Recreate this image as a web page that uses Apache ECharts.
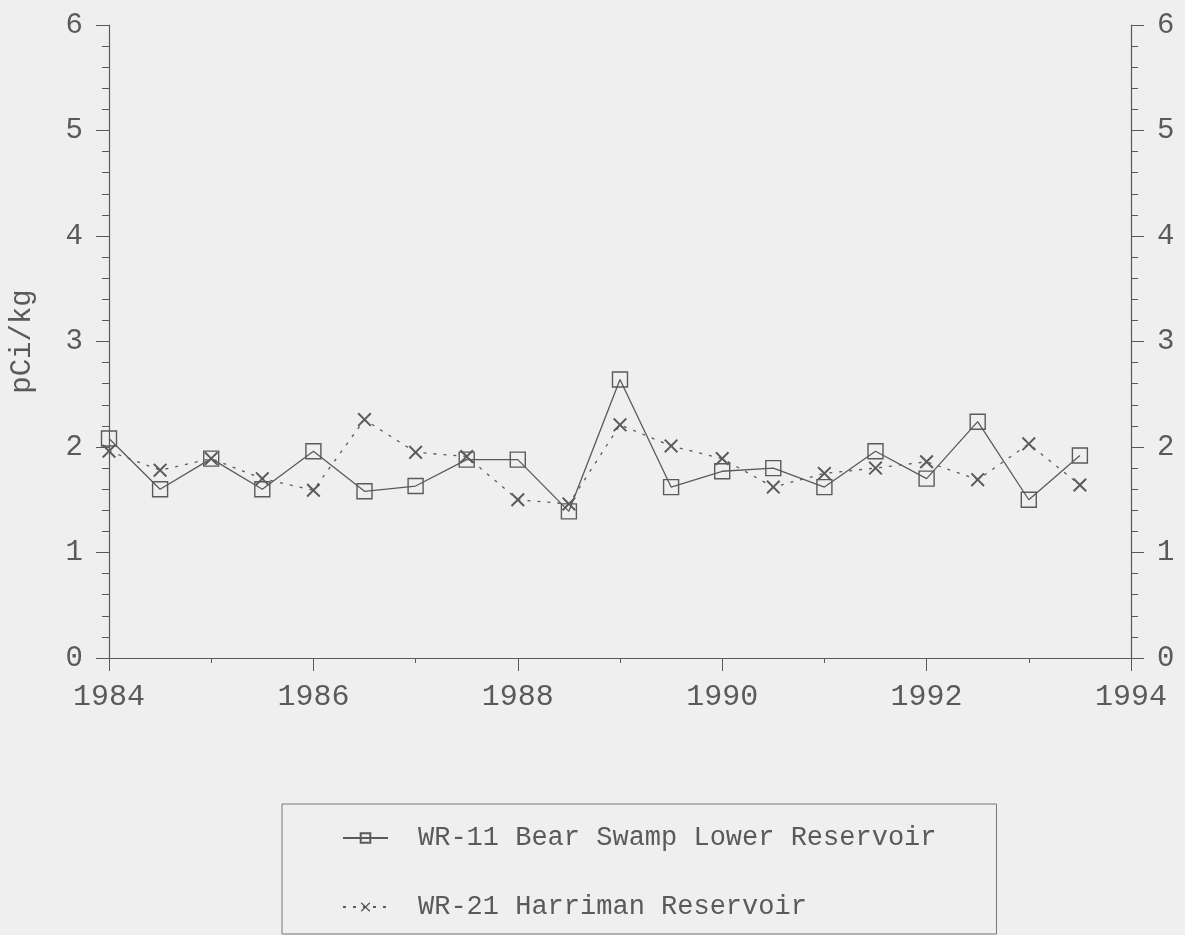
<!DOCTYPE html>
<html>
<head>
<meta charset="utf-8">
<script src="https://cdn.jsdelivr.net/npm/echarts@6/dist/echarts.min.js"></script>
<style>
html,body{margin:0;padding:0;background:#efefef;}
#chart{width:1185px;height:935px;}
</style>
</head>
<body>
<div id="chart"></div>
<script>
var years = [1984,1984.5,1985,1985.5,1986,1986.5,1987,1987.5,1988,1988.5,1989,1989.5,1990,1990.5,1991,1991.5,1992,1992.5,1993,1993.5];
var wr11 = [2.08,1.60,1.89,1.60,1.96,1.58,1.63,1.88,1.88,1.39,2.64,1.62,1.77,1.80,1.62,1.96,1.70,2.24,1.50,1.92];
var wr21 = [1.96,1.78,1.89,1.70,1.59,2.26,1.95,1.91,1.50,1.46,2.21,2.01,1.89,1.62,1.75,1.80,1.86,1.69,2.03,1.64];
var seriesNames = ['WR-11 Bear Swamp Lower Reservoir','WR-21 Harriman Reservoir'];
var yName = 'pCi/kg';

var ink = '#5a5a5a';
var font = 'Liberation Mono';
function pairs(xs, ys){ return xs.map(function(x,i){ return [x, ys[i]]; }); }
var xMark = 'path://M0,1 L1,0 L5,4 L9,0 L10,1 L6,5 L10,9 L9,10 L5,6 L1,10 L0,9 L4,5 Z';

var chart = echarts.init(document.getElementById('chart'));
chart.setOption({
  backgroundColor: '#efefef',
  animation: false,
  grid: {left: 108, right: 54, top: 25, bottom: 277},
  legend: {
    left: 282, top: 804,
    orient: 'vertical',
    backgroundColor: 'transparent',
    borderColor: '#777', borderWidth: 1, borderRadius: 0,
    padding: [19, 60, 12, 60],
    itemWidth: 45, itemHeight: 12, itemGap: 39,
    textStyle: {fontFamily: font, fontSize: 27, color: ink, lineHeight: 30, padding: [0,0,0,25]},
    data: seriesNames
  },
  xAxis: [{
    type: 'value', min: 1984, max: 1994, interval: 2,
    axisLine: {lineStyle: {color: ink, width: 1.2}},
    axisTick: {length: 13, lineStyle: {color: ink}},
    minorTick: {show: true, splitNumber: 2, length: 5, lineStyle: {color: ink}},
    axisLabel: {fontFamily: font, fontSize: 30, color: ink, margin: 24, formatter: function(v){ return String(v); }},
    splitLine: {show: false}
  },{
    type: 'value', position: 'top', min: 1984, max: 1994,
    axisLine: {lineStyle: {color: ink, width: 1.2}},
    axisTick: {show: false}, axisLabel: {show: false}, splitLine: {show: false}
  }],
  yAxis: [{
    type: 'value', min: 0, max: 6, interval: 1,
    name: yName, nameLocation: 'middle', nameGap: 72, nameRotate: 90,
    nameTextStyle: {fontFamily: font, fontSize: 29, color: ink},
    axisLine: {show: true, lineStyle: {color: ink, width: 1.2}},
    axisTick: {show: true, length: 13, lineStyle: {color: ink}},
    minorTick: {show: true, splitNumber: 5, length: 7, lineStyle: {color: ink}},
    axisLabel: {fontFamily: font, fontSize: 29, color: ink, margin: 26},
    splitLine: {show: false}
  },{
    type: 'value', min: 0, max: 6, interval: 1, position: 'right',
    axisLine: {show: true, lineStyle: {color: ink, width: 1.2}},
    axisTick: {show: true, length: 13, lineStyle: {color: ink}},
    minorTick: {show: true, splitNumber: 5, length: 7, lineStyle: {color: ink}},
    axisLabel: {fontFamily: font, fontSize: 29, color: ink, margin: 26},
    splitLine: {show: false}
  }],
  series: [{
    name: seriesNames[0], type: 'line',
    data: pairs(years, wr11),
    symbol: 'rect', symbolSize: 15, showAllSymbol: true,
    lineStyle: {color: ink, width: 1.3},
    itemStyle: {color: 'rgba(239,239,239,0)', borderColor: ink, borderWidth: 1.4},
    z: 3
  },{
    name: seriesNames[1], type: 'line',
    data: pairs(years, wr21),
    symbol: xMark, symbolSize: 14, showAllSymbol: true,
    lineStyle: {color: ink, width: 1.3, type: [3,7]},
    itemStyle: {color: ink, borderWidth: 0},
    z: 2
  }]
});
</script>
</body>
</html>
